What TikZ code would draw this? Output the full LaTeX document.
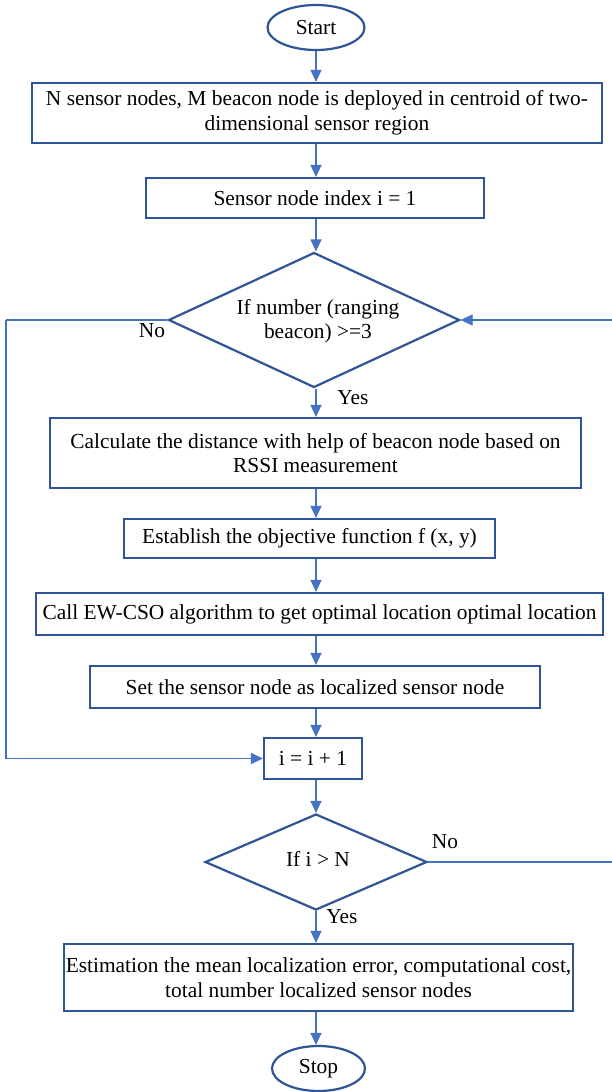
\documentclass[tikz,border=0pt]{standalone}
\usepackage{fontspec}
\setmainfont{Liberation Serif}
\usetikzlibrary{shapes.geometric,arrows.meta}
\definecolor{boxblue}{HTML}{2F5597}
\definecolor{arrblue}{HTML}{4472C4}
\begin{document}
\begin{tikzpicture}[x=1pt,y=-1pt,
  every node/.style={font=\fontsize{21.4}{24.5}\selectfont, inner sep=0pt, align=center},
  proc/.style={draw=boxblue, line width=2.2pt, rectangle},
  term/.style={draw=boxblue, line width=2.2pt, ellipse},
  dec/.style={draw=boxblue, line width=2.2pt, diamond},
  arr/.style={draw=arrblue, line width=1.2pt, -{Triangle[length=12pt,width=11pt]}},
  lnk/.style={draw=arrblue, line width=1.2pt},
  lbl/.style={font=\fontsize{21.4}{24.5}\selectfont}]
\useasboundingbox (0,0) rectangle (612,1092);
\fill[white] (0,0) rectangle (612,1092);
\node[term, minimum width=97pt, minimum height=45pt] (start) at (316,27.5) {Start};
\node[proc, minimum width=570pt, minimum height=60pt] (b1) at (317,113) {N sensor nodes, M beacon node is deployed in centroid of two-\\dimensional sensor region};
\node[proc, minimum width=338pt, minimum height=40pt] (b2) at (315,198) {Sensor node index i = 1};
\node[dec, minimum width=291pt, minimum height=135pt, aspect=2.16] (d1) at (314,320) {};
\node (t1) at (318,321) {If number (ranging\\beacon) >=3};
\node[proc, minimum width=531pt, minimum height=70pt] (b3) at (315.5,453) {Calculate the distance with help of beacon node based on\\RSSI measurement};
\node[proc, minimum width=371pt, minimum height=39pt] (b4) at (309.5,538.5) {Establish the objective function f (x, y)};
\node[proc, minimum width=567pt, minimum height=42pt] (b5) at (319.5,614) {Call EW-CSO algorithm to get optimal location optimal location};
\node[proc, minimum width=450pt, minimum height=42pt] (b6) at (315,687) {Set the sensor node as localized sensor node};
\node[proc, minimum width=98pt, minimum height=41pt] (b7) at (313,758.5) {i = i + 1};
\node[dec, minimum width=222pt, minimum height=96pt, aspect=2.31] (d2) at (316,862) {};
\node (t2) at (318,859) {If i > N};
\node[proc, minimum width=509pt, minimum height=67pt] (b8) at (318.5,977.5) {Estimation the mean localization error, computational cost,\\total number localized sensor nodes};
\node[term, minimum width=93pt, minimum height=45pt] (stop) at (318.5,1068.5) {Stop};
\coordinate (col) at (316,0);
\draw[arr] (start.south -| col) -- (b1.north -| col);
\draw[arr] (b1.south -| col) -- (b2.north -| col);
\draw[arr] (b2.south -| col) -- (d1.north -| col);
\draw[arr] (d1.south -| col) -- (b3.north -| col);
\draw[arr] (b3.south -| col) -- (b4.north -| col);
\draw[arr] (b4.south -| col) -- (b5.north -| col);
\draw[arr] (b5.south -| col) -- (b6.north -| col);
\draw[arr] (b6.south -| col) -- (b7.north -| col);
\draw[arr] (b7.south -| col) -- (d2.north -| col);
\draw[arr] (d2.south -| col) -- (b8.north -| col);
\draw[arr] (b8.south -| col) -- (stop.north -| col);
\coordinate (L1) at (6,320);
\coordinate (R1) at (613.5,320);
\coordinate (R2) at (613.5,862);
\draw[lnk] (d1.west) -- (L1);
\draw[arr] (L1) |- (b7.west);
\draw[lnk] (d2.east) -- (R2) -- (R1);
\draw[arr] (R1) -- (d1.east);
\node[lbl] (no1) at (152,331) {No};
\node[lbl] (yes1) at (353,398) {Yes};
\node[lbl] (no2) at (445,842) {No};
\node[lbl] (yes2) at (342,917) {Yes};
\end{tikzpicture}
\end{document}
